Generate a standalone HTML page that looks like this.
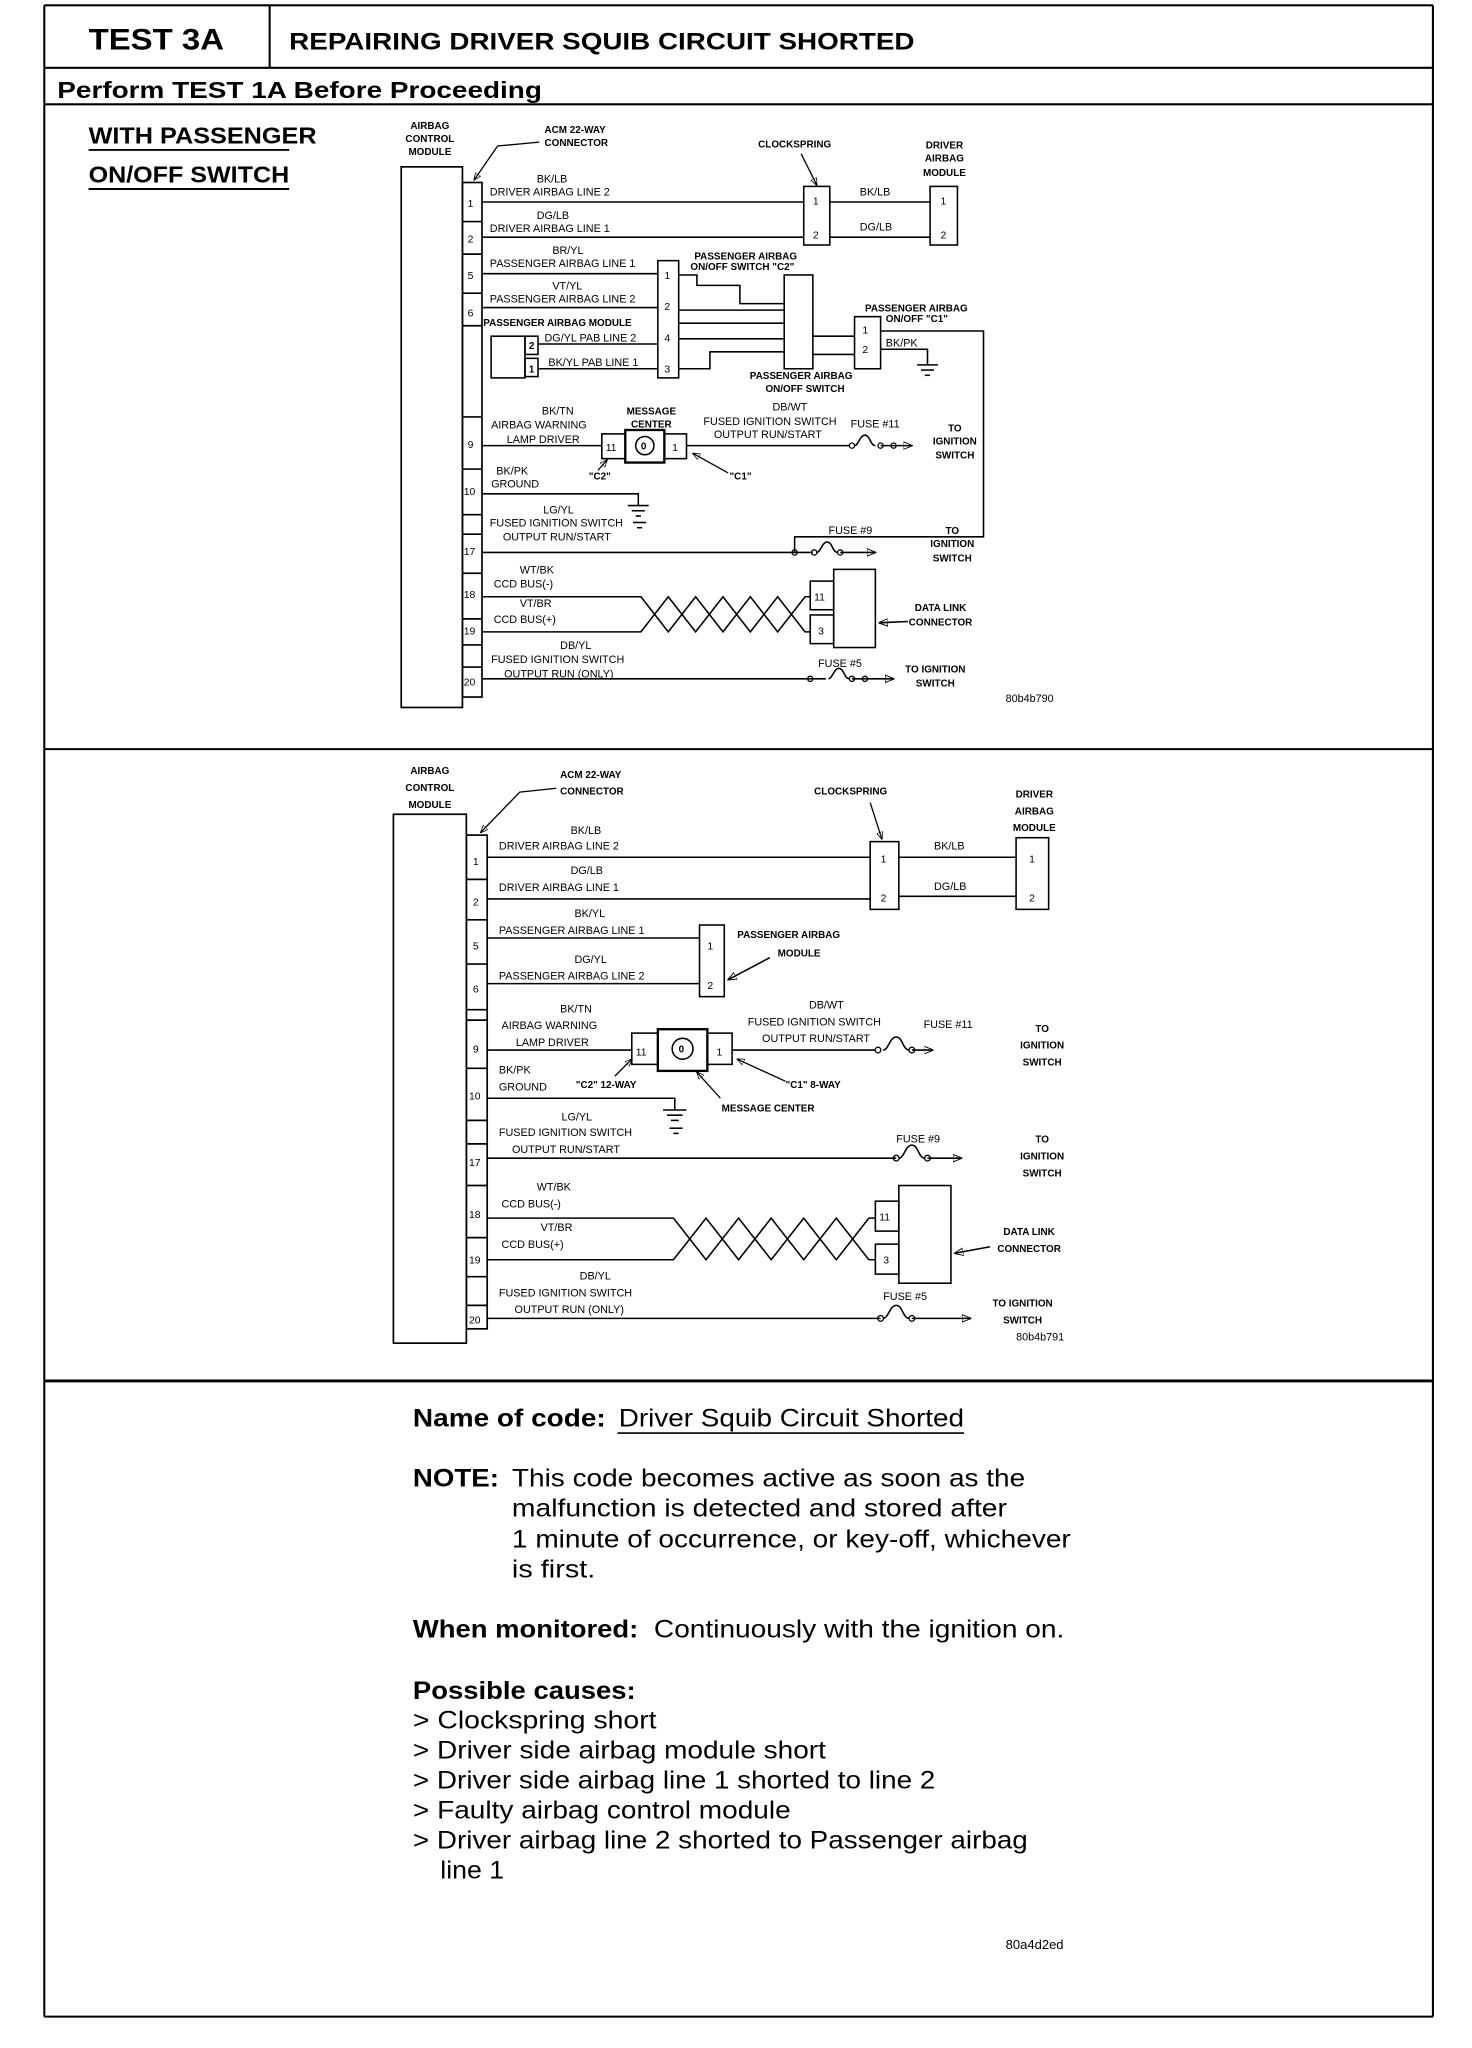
<!DOCTYPE html>
<html><head><meta charset="utf-8"><style>
html,body{margin:0;padding:0;background:#fff}
svg{display:block}
text{font-family:"Liberation Sans",Arial,sans-serif;fill:#000}
.s{font-size:8.3px}
.b{font-size:7.6px;font-weight:bold}
.p{font-size:8px}
.h{font-weight:bold}
line,polyline,rect,path,circle{stroke:#000;fill:none}
</style></head><body>
<svg width="1472" height="2048" viewBox="0 0 1130 1572" xmlns="http://www.w3.org/2000/svg">
<defs>
<marker id="ar" viewBox="0 0 10 10" refX="9" refY="5" markerWidth="6" markerHeight="6" orient="auto"><path d="M0 1 L10 5 L0 9 z" fill="#000" stroke="none"/></marker>
</defs>
<g stroke-width="1.6">
<line x1="34" y1="4" x2="1100" y2="4"/>
<line x1="34" y1="4" x2="34" y2="1548"/>
<line x1="1100" y1="4" x2="1100" y2="1548"/>
<line x1="34" y1="1548" x2="1100" y2="1548"/>
<line x1="207" y1="4" x2="207" y2="52"/>
<line x1="34" y1="52" x2="1100" y2="52"/>
<line x1="34" y1="80" x2="1100" y2="80"/>
<line x1="34" y1="575" x2="1100" y2="575"/>
<line x1="34" y1="1060" x2="1100" y2="1060" stroke-width="2.2"/>
</g>
<text x="68" y="38" class="h" font-size="23" textLength="104" lengthAdjust="spacingAndGlyphs">TEST 3A</text>
<text x="222" y="38" class="h" font-size="18.5" textLength="480" lengthAdjust="spacingAndGlyphs">REPAIRING DRIVER SQUIB CIRCUIT SHORTED</text>
<text x="44" y="75" class="h" font-size="18" textLength="372" lengthAdjust="spacingAndGlyphs">Perform TEST 1A Before Proceeding</text>
<text x="68" y="110" class="h" font-size="17.5" textLength="175" lengthAdjust="spacingAndGlyphs">WITH PASSENGER</text>
<line x1="68" y1="115" x2="222" y2="115" stroke-width="1.5"/>
<text x="68" y="140" class="h" font-size="17.5" textLength="154" lengthAdjust="spacingAndGlyphs">ON/OFF SWITCH</text>
<line x1="68" y1="145" x2="222" y2="145" stroke-width="1.5"/>

<!-- ============ DIAGRAM 1 ============ -->
<g stroke-width="1.3">
<rect x="308" y="128" width="47" height="415"/>
<rect x="355" y="140" width="15" height="395"/>
<line x1="355" y1="170" x2="370" y2="170"/>
<line x1="355" y1="195" x2="370" y2="195"/>
<line x1="355" y1="225" x2="370" y2="225"/>
<line x1="355" y1="250" x2="370" y2="250"/>
<line x1="355" y1="320" x2="370" y2="320"/>
<line x1="355" y1="360" x2="370" y2="360"/>
<line x1="355" y1="395" x2="370" y2="395"/>
<line x1="355" y1="410" x2="370" y2="410"/>
<line x1="355" y1="440" x2="370" y2="440"/>
<line x1="355" y1="475" x2="370" y2="475"/>
<line x1="355" y1="495" x2="370" y2="495"/>
<line x1="355" y1="512" x2="370" y2="512"/>
</g>
<text x="359" y="159" class="p">1</text><text x="359" y="186" class="p">2</text>
<text x="359" y="214" class="p">5</text><text x="359" y="243" class="p">6</text>
<text x="359" y="344" class="p">9</text><text x="356" y="380" class="p">10</text>
<text x="356" y="426" class="p">17</text><text x="356" y="459" class="p">18</text>
<text x="356" y="487" class="p">19</text><text x="356" y="526" class="p">20</text>
<text x="330" y="99" class="b" text-anchor="middle">AIRBAG</text>
<text x="330" y="109" class="b" text-anchor="middle">CONTROL</text>
<text x="330" y="119" class="b" text-anchor="middle">MODULE</text>
<text x="418" y="102" class="b">ACM 22-WAY</text>
<text x="418" y="112" class="b">CONNECTOR</text>
<polyline points="414,109 382,112 364,138" marker-end="url(#ar)"/>
<text x="582" y="113" class="b">CLOCKSPRING</text>
<line x1="615" y1="118" x2="627" y2="142" marker-end="url(#ar)"/>
<text x="725" y="114" class="b" text-anchor="middle">DRIVER</text>
<text x="725" y="124" class="b" text-anchor="middle">AIRBAG</text>
<text x="725" y="135" class="b" text-anchor="middle">MODULE</text>
<g stroke-width="1.2">
<line x1="370" y1="155" x2="617" y2="155"/>
<line x1="370" y1="182" x2="617" y2="182"/>
<rect x="617" y="143" width="20" height="45"/>
<line x1="637" y1="155" x2="714" y2="155"/>
<line x1="637" y1="182" x2="714" y2="182"/>
<rect x="714" y="143" width="21" height="45"/>
</g>
<text x="624" y="157" class="p">1</text><text x="624" y="183" class="p">2</text>
<text x="722" y="157" class="p">1</text><text x="722" y="183" class="p">2</text>
<text x="660" y="150" class="s">BK/LB</text><text x="660" y="177" class="s">DG/LB</text>
<text x="412" y="140" class="s">BK/LB</text><text x="376" y="150" class="s">DRIVER AIRBAG LINE 2</text>
<text x="412" y="168" class="s">DG/LB</text><text x="376" y="178" class="s">DRIVER AIRBAG LINE 1</text>
<text x="424" y="195" class="s">BR/YL</text><text x="376" y="205" class="s">PASSENGER AIRBAG LINE 1</text>
<text x="424" y="222" class="s">VT/YL</text><text x="376" y="232" class="s">PASSENGER AIRBAG LINE 2</text>
<text x="371" y="250" class="b">PASSENGER AIRBAG MODULE</text>
<g stroke-width="1.2">
<line x1="370" y1="210" x2="505" y2="210"/>
<line x1="370" y1="236" x2="505" y2="236"/>
<rect x="505" y="200" width="16" height="90"/>
<rect x="377" y="258" width="26" height="32"/>
<rect x="403" y="258" width="10" height="14"/>
<rect x="403" y="275" width="10" height="14"/>
<line x1="413" y1="264" x2="505" y2="264"/>
<line x1="413" y1="283" x2="505" y2="283"/>
<polyline points="521,211 535,211 535,219 568,219 568,233 602,233"/>
<line x1="521" y1="238" x2="602" y2="238"/>
<line x1="521" y1="248" x2="602" y2="248"/>
<line x1="521" y1="260" x2="602" y2="260"/>
<polyline points="521,283 545,283 545,270 602,270"/>
<rect x="602" y="211" width="22" height="72"/>
<line x1="624" y1="258" x2="656" y2="258"/>
<line x1="624" y1="272" x2="656" y2="272"/>
<rect x="656" y="243" width="20" height="40"/>
<polyline points="676,254 755,254 755,412 610,412 610,424"/>
<polyline points="676,268 712,268 712,280"/>
<line x1="704" y1="280" x2="720" y2="280"/><line x1="707" y1="284" x2="717" y2="284"/><line x1="710" y1="288" x2="714" y2="288"/>
</g>
<text x="406" y="268" class="b">2</text><text x="406" y="286" class="b">1</text>
<text x="418" y="262" class="s">DG/YL PAB LINE 2</text>
<text x="421" y="281" class="s">BK/YL PAB LINE 1</text>
<text x="510" y="214" class="p">1</text><text x="510" y="238" class="p">2</text>
<text x="510" y="262" class="p">4</text><text x="510" y="286" class="p">3</text>
<text x="662" y="256" class="p">1</text><text x="662" y="271" class="p">2</text>
<text x="533" y="199" class="b">PASSENGER AIRBAG</text>
<text x="530" y="207" class="b">ON/OFF SWITCH "C2"</text>
<text x="664" y="239" class="b">PASSENGER AIRBAG</text>
<text x="680" y="247" class="b">ON/OFF "C1"</text>
<text x="680" y="266" class="s">BK/PK</text>
<text x="615" y="291" class="b" text-anchor="middle">PASSENGER AIRBAG</text>
<text x="618" y="301" class="b" text-anchor="middle">ON/OFF SWITCH</text>
<g stroke-width="1.2">
<line x1="370" y1="342" x2="462" y2="342"/>
<rect x="462" y="333" width="18" height="19"/>
<rect x="480" y="330" width="30" height="25" stroke-width="1.8"/>
<circle cx="495" cy="342" r="7"/>
<rect x="510" y="333" width="17" height="19"/>
<line x1="527" y1="342" x2="652" y2="342"/>
<path d="M656 342 c3 0 4 -8 8 -8 c4 0 4 8 8 8"/>
<line x1="676" y1="342" x2="700" y2="342" marker-end="url(#ar)"/>
</g>
<circle cx="654" cy="342" r="2" fill="#000"/><circle cx="676" cy="342" r="2" fill="#000"/><circle cx="686" cy="342" r="2" fill="#000"/>
<text x="465" y="346" class="p">11</text><text x="492" y="345" class="b">0</text><text x="516" y="346" class="p">1</text>
<text x="416" y="318" class="s">BK/TN</text><text x="377" y="329" class="s">AIRBAG WARNING</text><text x="389" y="340" class="s">LAMP DRIVER</text>
<text x="500" y="318" class="b" text-anchor="middle">MESSAGE</text><text x="500" y="328" class="b" text-anchor="middle">CENTER</text>
<text x="593" y="315" class="s">DB/WT</text><text x="540" y="326" class="s">FUSED IGNITION SWITCH</text><text x="548" y="336" class="s">OUTPUT RUN/START</text>
<text x="653" y="328" class="s">FUSE #11</text>
<text x="733" y="331" class="b" text-anchor="middle">TO</text><text x="733" y="341" class="b" text-anchor="middle">IGNITION</text><text x="733" y="352" class="b" text-anchor="middle">SWITCH</text>
<text x="452" y="368" class="b">"C2"</text>
<line x1="459" y1="361" x2="466" y2="353" marker-end="url(#ar)"/>
<text x="560" y="368" class="b">"C1"</text>
<line x1="559" y1="363" x2="532" y2="348" marker-end="url(#ar)"/>
<g stroke-width="1.2">
<polyline points="370,379 490,379 490,388"/>
<line x1="482" y1="388" x2="498" y2="388"/><line x1="485" y1="392" x2="495" y2="392"/><line x1="488" y1="396" x2="492" y2="396"/>
<line x1="486" y1="401" x2="496" y2="401"/><line x1="489" y1="405" x2="493" y2="405"/>
</g>
<text x="381" y="364" class="s">BK/PK</text><text x="377" y="374" class="s">GROUND</text>
<text x="417" y="394" class="s">LG/YL</text><text x="376" y="404" class="s">FUSED IGNITION SWITCH</text><text x="386" y="415" class="s">OUTPUT RUN/START</text>
<g stroke-width="1.2">
<line x1="370" y1="424" x2="624" y2="424"/>
<path d="M627 424 c3 0 4 -8 8 -8 c4 0 4 8 8 8"/>
<line x1="645" y1="424" x2="672" y2="424" marker-end="url(#ar)"/>
</g>
<circle cx="610" cy="424" r="2" fill="#000"/><circle cx="625" cy="424" r="2" fill="#000"/><circle cx="645" cy="424" r="2" fill="#000"/>
<text x="636" y="410" class="s">FUSE #9</text>
<text x="731" y="410" class="b" text-anchor="middle">TO</text><text x="731" y="420" class="b" text-anchor="middle">IGNITION</text><text x="731" y="431" class="b" text-anchor="middle">SWITCH</text>
<g stroke-width="1.2">
<polyline points="370,458 492,458 513,485 534,458 555,485 576,458 597,485 618,458 622,458"/>
<polyline points="370,485 492,485 513,458 534,485 555,458 576,485 597,458 618,485 622,485"/>
<rect x="622" y="446" width="18" height="22"/>
<rect x="622" y="472" width="18" height="22"/>
<rect x="640" y="437" width="32" height="60"/>
<line x1="697" y1="477" x2="675" y2="478" marker-end="url(#ar)"/>
</g>
<text x="625" y="461" class="p">11</text><text x="628" y="487" class="p">3</text>
<text x="399" y="440" class="s">WT/BK</text><text x="379" y="451" class="s">CCD BUS(-)</text>
<text x="399" y="466" class="s">VT/BR</text><text x="379" y="478" class="s">CCD BUS(+)</text>
<text x="722" y="469" class="b" text-anchor="middle">DATA LINK</text><text x="722" y="480" class="b" text-anchor="middle">CONNECTOR</text>
<g stroke-width="1.2">
<line x1="370" y1="521" x2="634" y2="521"/>
<path d="M636 521 c3 0 4 -8 8 -8 c4 0 4 8 8 8"/>
<line x1="654" y1="521" x2="686" y2="521" marker-end="url(#ar)"/>
</g>
<circle cx="622" cy="521" r="2" fill="#000"/><circle cx="654" cy="521" r="2" fill="#000"/><circle cx="664" cy="521" r="2" fill="#000"/>
<text x="430" y="498" class="s">DB/YL</text><text x="377" y="509" class="s">FUSED IGNITION SWITCH</text><text x="387" y="520" class="s">OUTPUT RUN (ONLY)</text>
<text x="628" y="512" class="s">FUSE #5</text>
<text x="718" y="516" class="b" text-anchor="middle">TO IGNITION</text><text x="718" y="527" class="b" text-anchor="middle">SWITCH</text>
<text x="772" y="539" class="s" font-size="9">80b4b790</text>

<!-- ============ DIAGRAM 2 ============ -->
<g stroke-width="1.3">
<rect x="302" y="625" width="56" height="406"/>
<rect x="358" y="641" width="16" height="379"/>
<line x1="358" y1="675" x2="374" y2="675"/>
<line x1="358" y1="706" x2="374" y2="706"/>
<line x1="358" y1="740" x2="374" y2="740"/>
<line x1="358" y1="775" x2="374" y2="775"/>
<line x1="358" y1="783" x2="374" y2="783"/>
<line x1="358" y1="820" x2="374" y2="820"/>
<line x1="358" y1="860" x2="374" y2="860"/>
<line x1="358" y1="878" x2="374" y2="878"/>
<line x1="358" y1="910" x2="374" y2="910"/>
<line x1="358" y1="950" x2="374" y2="950"/>
<line x1="358" y1="980" x2="374" y2="980"/>
<line x1="358" y1="1002" x2="374" y2="1002"/>
</g>
<text x="363" y="664" class="p">1</text><text x="363" y="695" class="p">2</text>
<text x="363" y="729" class="p">5</text><text x="363" y="762" class="p">6</text>
<text x="363" y="808" class="p">9</text><text x="360" y="844" class="p">10</text>
<text x="360" y="895" class="p">17</text><text x="360" y="935" class="p">18</text>
<text x="360" y="970" class="p">19</text><text x="360" y="1016" class="p">20</text>
<text x="330" y="594" class="b" font-size="8.5" text-anchor="middle">AIRBAG</text>
<text x="330" y="607" class="b" font-size="8.5" text-anchor="middle">CONTROL</text>
<text x="330" y="620" class="b" font-size="8.5" text-anchor="middle">MODULE</text>
<text x="430" y="597" class="b" font-size="8.5">ACM 22-WAY</text>
<text x="430" y="610" class="b" font-size="8.5">CONNECTOR</text>
<polyline points="427,605 399,608 369,639" marker-end="url(#ar)"/>
<text x="625" y="610" class="b" font-size="8.5">CLOCKSPRING</text>
<line x1="668" y1="616" x2="677" y2="644" marker-end="url(#ar)"/>
<text x="794" y="612" class="b" font-size="8.5" text-anchor="middle">DRIVER</text>
<text x="794" y="625" class="b" font-size="8.5" text-anchor="middle">AIRBAG</text>
<text x="794" y="638" class="b" font-size="8.5" text-anchor="middle">MODULE</text>
<g stroke-width="1.2">
<line x1="374" y1="658" x2="668" y2="658"/>
<line x1="374" y1="690" x2="668" y2="690"/>
<rect x="668" y="646" width="22" height="52"/>
<line x1="690" y1="658" x2="780" y2="658"/>
<line x1="690" y1="688" x2="780" y2="688"/>
<rect x="780" y="643" width="25" height="55"/>
</g>
<text x="676" y="662" class="p">1</text><text x="676" y="692" class="p">2</text>
<text x="790" y="662" class="p">1</text><text x="790" y="692" class="p">2</text>
<text x="717" y="652" class="s">BK/LB</text><text x="717" y="683" class="s">DG/LB</text>
<text x="438" y="640" class="s">BK/LB</text><text x="383" y="652" class="s">DRIVER AIRBAG LINE 2</text>
<text x="438" y="671" class="s">DG/LB</text><text x="383" y="684" class="s">DRIVER AIRBAG LINE 1</text>
<text x="441" y="704" class="s">BK/YL</text><text x="383" y="717" class="s">PASSENGER AIRBAG LINE 1</text>
<text x="441" y="739" class="s">DG/YL</text><text x="383" y="752" class="s">PASSENGER AIRBAG LINE 2</text>
<g stroke-width="1.2">
<line x1="374" y1="720" x2="537" y2="720"/>
<line x1="374" y1="755" x2="537" y2="755"/>
<rect x="537" y="710" width="19" height="55"/>
<line x1="591" y1="735" x2="559" y2="752" marker-end="url(#ar)"/>
</g>
<text x="543" y="729" class="p">1</text><text x="543" y="759" class="p">2</text>
<text x="566" y="720" class="b" font-size="8.5">PASSENGER AIRBAG</text>
<text x="597" y="734" class="b" font-size="8.5">MODULE</text>
<g stroke-width="1.2">
<line x1="374" y1="806" x2="485" y2="806"/>
<rect x="485" y="793" width="20" height="24"/>
<rect x="505" y="790" width="38" height="32" stroke-width="1.8"/>
<circle cx="524" cy="805" r="8"/>
<rect x="543" y="793" width="19" height="24"/>
<line x1="562" y1="806" x2="672" y2="806"/>
<path d="M678 806 c4 0 5 -10 10 -10 c5 0 5 10 10 10"/>
<line x1="700" y1="806" x2="716" y2="806" marker-end="url(#ar)"/>
</g>
<circle cx="674" cy="806" r="2.2" fill="#000"/><circle cx="700" cy="806" r="2.2" fill="#000"/>
<text x="488" y="810" class="p">11</text><text x="521" y="808" class="b">0</text><text x="550" y="810" class="p">1</text>
<text x="430" y="777" class="s">BK/TN</text><text x="385" y="790" class="s">AIRBAG WARNING</text><text x="396" y="803" class="s">LAMP DRIVER</text>
<text x="621" y="774" class="s">DB/WT</text><text x="574" y="787" class="s">FUSED IGNITION SWITCH</text><text x="585" y="800" class="s">OUTPUT RUN/START</text>
<text x="709" y="789" class="s">FUSE #11</text>
<text x="800" y="792" class="b" font-size="8.5" text-anchor="middle">TO</text><text x="800" y="805" class="b" font-size="8.5" text-anchor="middle">IGNITION</text><text x="800" y="818" class="b" font-size="8.5" text-anchor="middle">SWITCH</text>
<text x="442" y="835" class="b" font-size="8.5">"C2" 12-WAY</text>
<line x1="472" y1="826" x2="485" y2="813" marker-end="url(#ar)"/>
<text x="603" y="835" class="b" font-size="8.5">"C1" 8-WAY</text>
<line x1="603" y1="830" x2="566" y2="813" marker-end="url(#ar)"/>
<text x="554" y="853" class="b" font-size="8.5">MESSAGE CENTER</text>
<line x1="553" y1="843" x2="535" y2="823" marker-end="url(#ar)"/>
<g stroke-width="1.2">
<polyline points="374,843 518,843 518,852"/>
<line x1="509" y1="852" x2="527" y2="852"/><line x1="512" y1="856" x2="524" y2="856"/><line x1="515" y1="860" x2="521" y2="860"/>
<line x1="514" y1="866" x2="524" y2="866"/><line x1="517" y1="870" x2="521" y2="870"/>
</g>
<text x="383" y="824" class="s">BK/PK</text><text x="383" y="837" class="s">GROUND</text>
<text x="431" y="860" class="s">LG/YL</text><text x="383" y="872" class="s">FUSED IGNITION SWITCH</text><text x="393" y="885" class="s">OUTPUT RUN/START</text>
<g stroke-width="1.2">
<line x1="374" y1="889" x2="688" y2="889"/>
<path d="M690 889 c4 0 5 -10 10 -10 c5 0 5 10 10 10"/>
<line x1="712" y1="889" x2="738" y2="889" marker-end="url(#ar)"/>
</g>
<circle cx="688" cy="889" r="2.2" fill="#000"/><circle cx="712" cy="889" r="2.2" fill="#000"/>
<text x="688" y="877" class="s">FUSE #9</text>
<text x="800" y="877" class="b" font-size="8.5" text-anchor="middle">TO</text><text x="800" y="890" class="b" font-size="8.5" text-anchor="middle">IGNITION</text><text x="800" y="903" class="b" font-size="8.5" text-anchor="middle">SWITCH</text>
<g stroke-width="1.2">
<polyline points="374,935 517,935 542,967 567,935 592,967 617,935 642,967 667,935 672,935"/>
<polyline points="374,967 517,967 542,935 567,967 592,935 617,967 642,935 667,967 672,967"/>
<rect x="672" y="922" width="18" height="23"/>
<rect x="672" y="955" width="18" height="23"/>
<rect x="690" y="910" width="40" height="75"/>
<line x1="760" y1="957" x2="733" y2="962" marker-end="url(#ar)"/>
</g>
<text x="675" y="937" class="p">11</text><text x="678" y="970" class="p">3</text>
<text x="412" y="914" class="s">WT/BK</text><text x="385" y="927" class="s">CCD BUS(-)</text>
<text x="415" y="945" class="s">VT/BR</text><text x="385" y="958" class="s">CCD BUS(+)</text>
<text x="790" y="948" class="b" font-size="8.5" text-anchor="middle">DATA LINK</text><text x="790" y="961" class="b" font-size="8.5" text-anchor="middle">CONNECTOR</text>
<g stroke-width="1.2">
<line x1="374" y1="1012" x2="676" y2="1012"/>
<path d="M678 1012 c4 0 5 -10 10 -10 c5 0 5 10 10 10"/>
<line x1="700" y1="1012" x2="745" y2="1012" marker-end="url(#ar)"/>
</g>
<circle cx="676" cy="1012" r="2.2" fill="#000"/><circle cx="700" cy="1012" r="2.2" fill="#000"/>
<text x="445" y="982" class="s">DB/YL</text><text x="383" y="995" class="s">FUSED IGNITION SWITCH</text><text x="395" y="1008" class="s">OUTPUT RUN (ONLY)</text>
<text x="678" y="998" class="s">FUSE #5</text>
<text x="785" y="1003" class="b" font-size="8.5" text-anchor="middle">TO IGNITION</text><text x="785" y="1016" class="b" font-size="8.5" text-anchor="middle">SWITCH</text>
<text x="780" y="1029" class="s" font-size="9.5">80b4b791</text>

<!-- ============ TEXT ============ -->
<g font-size="19.5">
<text x="317" y="1095" class="h" font-size="19" textLength="148" lengthAdjust="spacingAndGlyphs">Name of code:</text>
<text x="475" y="1095" textLength="265" lengthAdjust="spacingAndGlyphs">Driver Squib Circuit Shorted</text>
<line x1="474" y1="1100" x2="740" y2="1100" stroke-width="1.2"/>
<text x="317" y="1141" class="h" font-size="19" textLength="66" lengthAdjust="spacingAndGlyphs">NOTE:</text>
<text x="393" y="1141" textLength="394" lengthAdjust="spacingAndGlyphs">This code becomes active as soon as the</text>
<text x="393" y="1164" textLength="380" lengthAdjust="spacingAndGlyphs">malfunction is detected and stored after</text>
<text x="393" y="1188" textLength="429" lengthAdjust="spacingAndGlyphs">1 minute of occurrence, or key-off, whichever</text>
<text x="393" y="1211" textLength="64" lengthAdjust="spacingAndGlyphs">is first.</text>
<text x="317" y="1257" class="h" font-size="19" textLength="173" lengthAdjust="spacingAndGlyphs">When monitored:</text>
<text x="502" y="1257" textLength="315" lengthAdjust="spacingAndGlyphs">Continuously with the ignition on.</text>
<text x="317" y="1304" class="h" font-size="19" textLength="171" lengthAdjust="spacingAndGlyphs">Possible causes:</text>
<text x="317" y="1327" textLength="187" lengthAdjust="spacingAndGlyphs">&gt; Clockspring short</text>
<text x="317" y="1350" textLength="317" lengthAdjust="spacingAndGlyphs">&gt; Driver side airbag module short</text>
<text x="317" y="1373" textLength="401" lengthAdjust="spacingAndGlyphs">&gt; Driver side airbag line 1 shorted to line 2</text>
<text x="317" y="1396" textLength="290" lengthAdjust="spacingAndGlyphs">&gt; Faulty airbag control module</text>
<text x="317" y="1419" textLength="472" lengthAdjust="spacingAndGlyphs">&gt; Driver airbag line 2 shorted to Passenger airbag</text>
<text x="338" y="1442" textLength="49" lengthAdjust="spacingAndGlyphs">line 1</text>
</g>
<text x="772" y="1496" font-size="10">80a4d2ed</text>
</svg>
</body></html>
